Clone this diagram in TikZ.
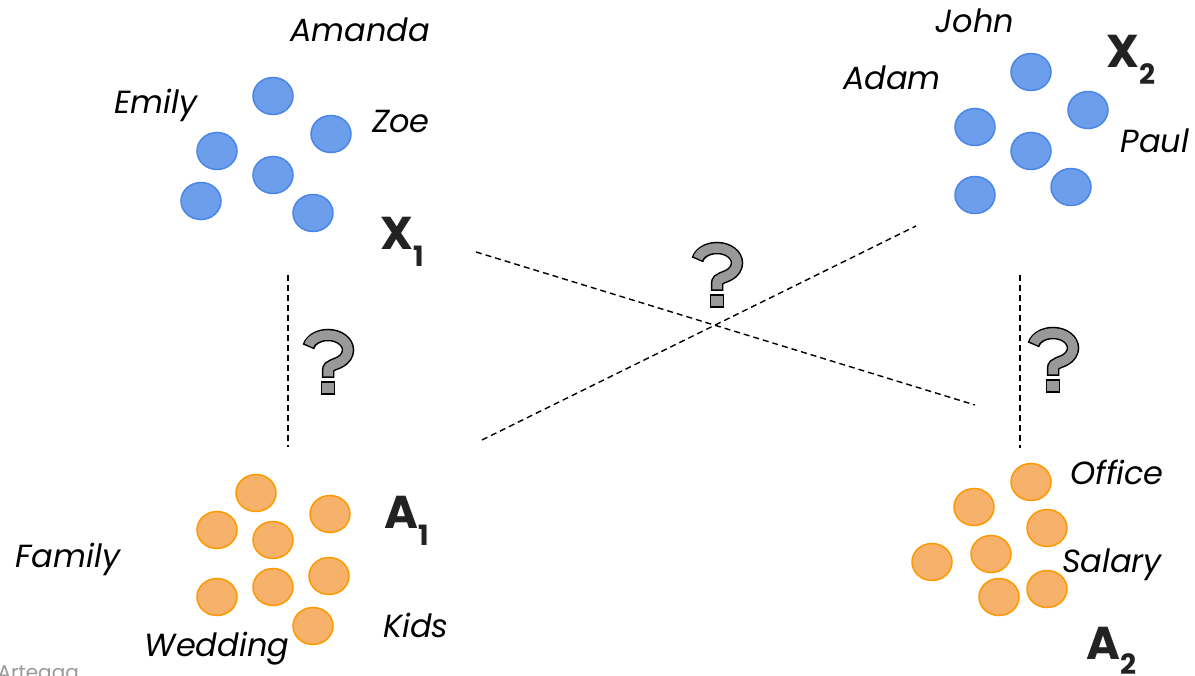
\documentclass[tikz,border=0pt]{standalone}
\usepackage{fontspec}
\setsansfont{Poppins}
\usetikzlibrary{shapes.geometric}
\definecolor{bfill}{HTML}{6D9EEB}
\definecolor{bdraw}{HTML}{4A86E8}
\definecolor{ofill}{HTML}{F6B26B}
\definecolor{odraw}{HTML}{FF9900}
\definecolor{qgray}{HTML}{999999}
\definecolor{lbl}{HTML}{222222}
\tikzset{
  dotshape/.style={ellipse, minimum width=40pt, minimum height=37pt, inner sep=0pt, line width=1.5pt},
  bdot/.style={dotshape, fill=bfill, draw=bdraw},
  odot/.style={dotshape, fill=ofill, draw=odraw},
  person/.style={font=\sffamily\itshape\fontsize{32}{32}\selectfont, anchor=base, inner sep=0pt, text=black},
  setlbl/.style={font=\sffamily\bfseries\fontsize{46}{46}\selectfont, anchor=base west, inner sep=0pt, text=lbl},
  dline/.style={dash pattern=on 6pt off 4pt, line width=1.4pt},
  qpath/.style={insert path={(168:20pt and 15pt) arc[start angle=168, end angle=-40, x radius=20pt, y radius=15pt]
      .. controls (8.5pt,-15.5pt) and (0pt,-14pt) .. (0pt,-21pt) -- (0pt,-28pt)}},
  qmark/.pic={
    \path[draw=black, line width=12.5pt, qpath];
    \path[draw=qgray, line width=9.5pt, shorten <=1.5pt, shorten >=1.5pt, qpath];
    \path[fill=qgray, draw=black, line width=1.5pt] (-6.5pt,-32pt) rectangle (6.5pt,-44pt);
  }
}
\begin{document}
\begin{tikzpicture}[x=1pt,y=-1pt]
\useasboundingbox (0,0) rectangle (1195,676);
% blue group X1
\node[bdot] (b1) at (273,96) {};
\node[bdot] (b2) at (331,134) {};
\node[bdot] (b3) at (217,151) {};
\node[bdot] (b4) at (273,175) {};
\node[bdot] (b5) at (201,201) {};
\node[bdot] (b6) at (313,213) {};
% blue group X2
\node[bdot] (c1) at (1031,72) {};
\node[bdot] (c2) at (1088,110) {};
\node[bdot] (c3) at (975,127) {};
\node[bdot] (c4) at (1031,151) {};
\node[bdot] (c5) at (975,195) {};
\node[bdot] (c6) at (1071,187) {};
% orange group A1
\node[odot] (o1) at (256,493) {};
\node[odot] (o2) at (217,530) {};
\node[odot] (o3) at (330,514) {};
\node[odot] (o4) at (273,540) {};
\node[odot] (o5) at (217,597) {};
\node[odot] (o6) at (273,587) {};
\node[odot] (o7) at (329,576) {};
\node[odot] (o8) at (313,626) {};
% orange group A2
\node[odot] (p1) at (1031,482) {};
\node[odot] (p2) at (974,507) {};
\node[odot] (p3) at (1047,528) {};
\node[odot] (p4) at (932,562) {};
\node[odot] (p5) at (991,554) {};
\node[odot] (p6) at (999,597) {};
\node[odot] (p7) at (1047,589) {};
% names
\node[person] (nAmanda) at (360,42) {Amanda};
\node[person] (nEmily) at (156,114) {Emily};
\node[person] (nZoe) at (401,133) {Zoe};
\node[person] (nJohn) at (975,33) {John};
\node[person] (nAdam) at (892,90) {Adam};
\node[person] (nPaul) at (1155,153) {Paul};
\node[person] (nFamily) at (68,567) {Family};
\node[person] (nWedding) at (217,656) {Wedding};
\node[person] (nKids) at (416,637) {Kids};
\node[person] (nOffice) at (1117,484) {Office};
\node[person] (nSalary) at (1112,572) {Salary};
% set labels
\node[setlbl] (X1) at (380,250) {X\raisebox{-17pt}{\fontsize{28}{28}\selectfont 1}};
\node[setlbl] (X2) at (1106,68) {X\raisebox{-17pt}{\fontsize{28}{28}\selectfont 2}};
\node[setlbl] (A1) at (384,528) {A\raisebox{-17pt}{\fontsize{28}{28}\selectfont 1}};
\node[setlbl] (A2) at (1086,659) {A\raisebox{-15pt}{\fontsize{28}{28}\selectfont 2}};
% credit
\node[font=\sffamily\fontsize{20}{20}\selectfont, text=gray!80, anchor=base east, inner sep=0pt] (credit) at (79,679) {Arteaga};
% connector ends
\coordinate (l1) at (288,275); \coordinate (l2) at (288,447);
\coordinate (r1) at (1020,275); \coordinate (r2) at (1020,448);
\coordinate (d1) at (476,252); \coordinate (d2) at (975,405);
\coordinate (e1) at (482,440); \coordinate (e2) at (916,226);
\draw[dline] (l1) -- (l2);
\draw[dline] (r1) -- (r2);
\draw[dline] (d1) -- (d2);
\draw[dline] (e1) -- (e2);
% question marks
\pic at (328,350) {qmark};
\pic at (717,263) {qmark};
\pic at (1053,348) {qmark};
\end{tikzpicture}
\end{document}
